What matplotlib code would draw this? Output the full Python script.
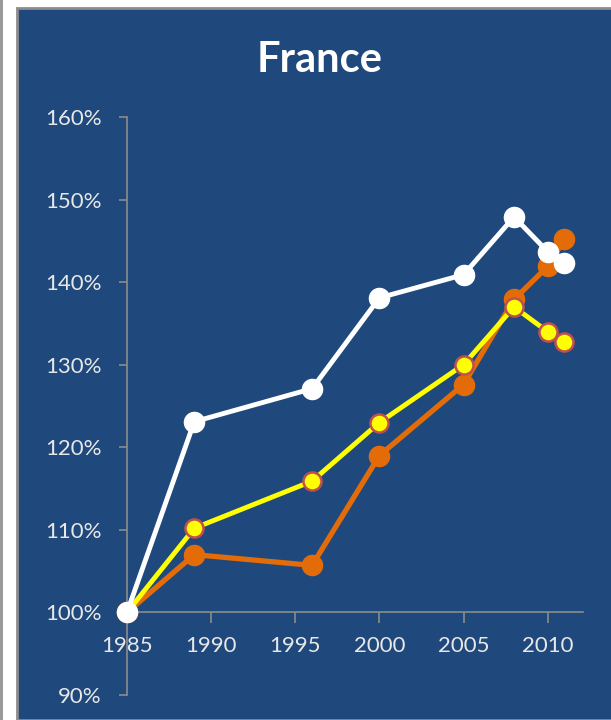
import matplotlib
matplotlib.use("Agg")
import matplotlib.pyplot as plt
from matplotlib.patches import Rectangle

years = [1985, 1989, 1996, 2000, 2005, 2008, 2010, 2011]
white_vals = [100, 123.1, 127.1, 138.1, 140.9, 147.9, 143.7, 142.3]
yellow_vals = [100, 110.2, 115.9, 123.0, 130.0, 137.0, 134.0, 132.8]
orange_vals = [100, 107.0, 105.7, 119.0, 127.6, 137.9, 141.9, 145.2]
xticks = [1985, 1990, 1995, 2000, 2005, 2010]
yticks = [90, 100, 110, 120, 130, 140, 150, 160]
title = "France"

bg = "#1F497D"
plt.rcParams["font.family"] = ["Lato", "DejaVu Sans"]
fig = plt.figure(figsize=(6.11, 7.2), dpi=100)
fig.patch.set_facecolor("white")
fig.patches.append(Rectangle((17 / 611, 0), 1, 712 / 720, transform=fig.transFigure,
                             facecolor=bg, edgecolor="#8c8c8c", linewidth=2, zorder=0))
fig.patches.append(Rectangle((0, 0), 3 / 611, 1, transform=fig.transFigure,
                             facecolor="#9a9a9a", edgecolor="none", zorder=0))

ax = fig.add_axes([127 / 611, 25 / 720, 456 / 611, 578 / 720])
ax.set_zorder(2)
ax.set_facecolor("none")
ax.plot(years, orange_vals, color="#E36C09", lw=3.8, marker="o", ms=14.5,
        mfc="#E36C09", mec="#E36C09", zorder=3, clip_on=False)
ax.plot(years, yellow_vals, color="#FFFF00", lw=3.5, marker="o", ms=13,
        mfc="#FFFF00", mec="#C0504D", mew=1.8, zorder=4, clip_on=False)
ax.plot(years, white_vals, color="white", lw=3.5, marker="o", ms=14.5,
        mfc="white", mec="white", zorder=5, clip_on=False)

ax.set_xlim(1985, 2012.1)
ax.set_ylim(90, 160)
ax.set_xticks(xticks)
ax.set_yticks(yticks)
ax.set_yticklabels([f"{v}%" for v in yticks])
for s in ["top", "right"]:
    ax.spines[s].set_visible(False)
ax.spines["bottom"].set_position(("data", 100))
for s in ["left", "bottom"]:
    ax.spines[s].set_color("#8c8c8c")
    ax.spines[s].set_linewidth(1.2)
ax.tick_params(axis="y", colors="#8c8c8c", labelcolor="#e8e8e8", labelsize=16,
               length=6, width=1.2, pad=12)
ax.tick_params(axis="x", colors="#8c8c8c", labelcolor="#e8e8e8", labelsize=16,
               length=8, width=1.2, pad=9)
fig.text(320 / 611, 1 - 60 / 720, title, color="white", fontsize=30,
         fontweight="bold", ha="center", va="center")

fig.savefig("out.png", dpi=100, facecolor="white")
